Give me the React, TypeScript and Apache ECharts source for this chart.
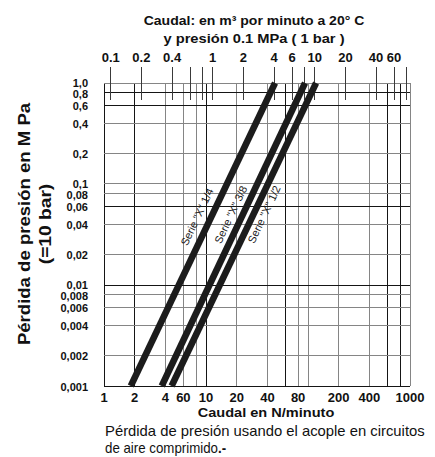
import React, { useEffect, useRef } from 'react';
import * as echarts from 'echarts';

// ---- data ----
const serieNames = ['Serie "X" 1/4', 'Serie "X" 3/8', 'Serie "X" 1/2'];
const serie14 = [[1.83, 0.001], [47.5, 1.0]];
const serie38 = [[3.68, 0.001], [93.5, 1.0]];
const serie12 = [[4.6, 0.001], [120, 1.0]];

const bottomGridValues = [1, 2, 4, 6, 8, 10, 20, 40, 60, 80, 100, 200, 400, 600, 800, 1000];
const bottomDarkValues = [1, 2, 10, 60, 600, 800];
const bottomTickValues = [1, 2, 4, 6, 10, 20, 40, 80, 200, 400, 1000];
const bottomTickLabels = ['1', '2', '4', '60', '10', '20', '40', '80', '200', '400', '1000'];

const topTickValues = [0.1, 0.2, 0.4, 0.6, 0.8, 1, 2, 4, 6, 8, 10, 20, 40, 60, 80];
const topLabelValues = [0.1, 0.2, 0.4, 1, 2, 4, 6, 10, 20, 40, 60];
const topTickLabels = ['0.1', '0.2', '0.4', '1', '2', '4', '6', '10', '20', '40', '60'];

const yGridValues = [1, 0.8, 0.6, 0.4, 0.2, 0.1, 0.08, 0.06, 0.04, 0.02, 0.01, 0.008, 0.006, 0.004, 0.002, 0.001];
const yDarkValues = [0.8, 0.6, 0.06, 0.01, 0.001];
const yTickLabels = ['1,0', '0,8', '0,6', '0,4', '0,2', '0,1', '0,08', '0,06', '0,04', '0,02', '0,01', '0,008', '0,006', '0,004', '0,002', '0,001'];

const titleTop1 = 'Caudal: en m³ por minuto a 20° C';
const titleTop2 = 'y presión 0.1 MPa ( 1 bar )';
const titleBottom = 'Caudal en N/minuto';
const titleLeft1 = 'Pérdida de presión en M Pa';
const titleLeft2 = '(=10 bar)';
const caption1 = 'Pérdida de presión usando el acople en circuitos';
const caption2 = 'de aire comprimido';

const FONT = '"Liberation Sans", Arial, sans-serif';

export default function App() {
  const ref = useRef<HTMLDivElement>(null);
  useEffect(() => {
    const el = ref.current!;
    const chart = echarts.init(el, undefined, { renderer: 'svg' });
    const seriesData = [serie14, serie38, serie12];
    chart.setOption({
      animation: false,
      backgroundColor: '#ffffff',
      grid: { left: 104, right: 25, top: 83, bottom: 71, containLabel: false },
      xAxis: [
        { type: 'log', logBase: 10, min: 1, max: 1000, show: false },
        { type: 'log', logBase: 10, min: 0.086, max: 86, position: 'top', show: false },
      ],
      yAxis: [{ type: 'log', logBase: 10, min: 0.001, max: 1, show: false }],
      series: seriesData.map((d, i) => ({
        type: 'line',
        name: serieNames[i],
        xAxisIndex: 0,
        yAxisIndex: 0,
        data: d,
        symbol: 'none',
        clip: false,
        z: 5,
        lineStyle: { width: 6.5, color: '#1c1c1c', cap: 'butt' },
      })),
    });

    const px = (v: number) => chart.convertToPixel({ xAxisIndex: 0 }, v) as unknown as number;
    const tx = (v: number) => chart.convertToPixel({ xAxisIndex: 1 }, v) as unknown as number;
    const py = (v: number) => chart.convertToPixel({ yAxisIndex: 0 }, v) as unknown as number;
    const crisp = (v: number) => Math.floor(v) + 0.5;

    const DARK = '#151515';
    const GREY = '#858585';
    const els: any[] = [];
    const left = px(1), right = px(1000), top = py(1), bottom = py(0.001);

    bottomGridValues.forEach((v) => {
      const x = crisp(px(v));
      els.push({
        type: 'line', z: 1, silent: true,
        shape: { x1: x, y1: top, x2: x, y2: bottom },
        style: { stroke: bottomDarkValues.includes(v) ? DARK : GREY, lineWidth: 1 },
      });
    });
    yGridValues.forEach((v) => {
      const y = crisp(py(v));
      els.push({
        type: 'line', z: 1, silent: true,
        shape: { x1: left, y1: y, x2: right, y2: y },
        style: { stroke: yDarkValues.includes(v) ? DARK : GREY, lineWidth: 1 },
      });
    });
    topTickValues.forEach((v) => {
      const x = crisp(tx(v));
      els.push({
        type: 'line', z: 2, silent: true,
        shape: { x1: x, y1: top - 16, x2: x, y2: top + 17 },
        style: { stroke: '#3a3a3a', lineWidth: 1 },
      });
    });

    const txt = (text: string, x: number, y: number, o: any = {}) => ({
      type: 'text', z: 10, silent: true, x, y,
      rotation: o.rotation || 0,
      scaleX: o.scaleX || 1,
      scaleY: 1,
      style: {
        text,
        fontFamily: o.fontFamily || FONT,
        fontSize: o.fontSize || 12,
        fontWeight: o.fontWeight || 'bold',
        lineHeight: o.lineHeight,
        fill: o.fill || '#111',
        align: o.align || 'center',
        verticalAlign: 'middle',
        textAlign: o.align || 'center',
        textVerticalAlign: 'middle',
        rich: o.rich,
      },
    });

    bottomTickValues.forEach((v, i) => {
      els.push(txt(bottomTickLabels[i], px(v), bottom + 11, { fontSize: 13 }));
    });
    topLabelValues.forEach((v, i) => {
      els.push(txt(topTickLabels[i], tx(v), top - 26, { fontSize: 13 }));
    });

    // y labels: centred on their lines, nudged apart where lines are too close
    const ys = yGridValues.map((v) => py(v) + 0.5);
    const minGap = 11.5;
    for (let iter = 0; iter < 20; iter++) {
      for (let i = 0; i < ys.length - 1; i++) {
        const gap = ys[i + 1] - ys[i];
        if (gap < minGap) {
          const push = (minGap - gap) / 2;
          ys[i] -= push;
          ys[i + 1] += push;
        }
      }
    }
    yGridValues.forEach((v, i) => {
      els.push(txt(yTickLabels[i], left - 16, ys[i], { fontSize: 11, lineHeight: 10, align: 'right' }));
    });

    const midX = 254;
    els.push(txt(titleTop1, midX, 21, { fontSize: 13, scaleX: 1.08 }));
    els.push(txt(titleTop2, midX, 38.5, { fontSize: 13, scaleX: 1.13 }));
    els.push(txt(titleBottom, 266, bottom + 27, { fontSize: 13, scaleX: 1.12 }));
    els.push(txt(titleLeft1, 24, 224, { fontSize: 16, rotation: Math.PI / 2, scaleX: 1.16 }));
    els.push(txt(titleLeft2, 46, 224, { fontSize: 16, rotation: Math.PI / 2, scaleX: 1.2 }));

    els.push(txt(caption1, 105, 431, { fontSize: 14, fontWeight: 'normal', align: 'left', scaleX: 1.06 }));
    els.push(txt('{n|' + caption2 + '}{b|.-}', 105, 448.5, {
      fontSize: 14, fontWeight: 'normal', align: 'left', scaleX: 0.95,
      rich: {
        n: { fontSize: 14, fontFamily: FONT, fontWeight: 'normal', fill: '#111' },
        b: { fontSize: 14, fontFamily: FONT, fontWeight: 'bold', fill: '#111' },
      },
    }));

    const along = [0.54, 0.55, 0.58];
    const dist = [13, 11, -9.5];
    seriesData.forEach((d, i) => {
      const bx = px(d[0][0]), by = py(d[0][1]);
      const ex = px(d[1][0]), ey = py(d[1][1]);
      const dx = ex - bx, dy = ey - by;
      const len = Math.sqrt(dx * dx + dy * dy);
      const ux = dx / len, uy = dy / len;
      const nx = uy, ny = -ux;
      const cx = bx + along[i] * dx + dist[i] * nx;
      const cy = by + along[i] * dy + dist[i] * ny;
      const rot = Math.atan2(-dy, dx);
      els.push(txt(serieNames[i], cx, cy, { fontSize: 11, fontWeight: 'normal', rotation: rot, fill: '#1a1a1a' }));
    });

    chart.setOption({ graphic: { elements: els } });
    return () => chart.dispose();
  }, []);
  return (
    <div
      ref={ref}
      style={{ position: 'fixed', left: 0, top: 0, width: 435, height: 457, background: '#fff' }}
    />
  );
}
